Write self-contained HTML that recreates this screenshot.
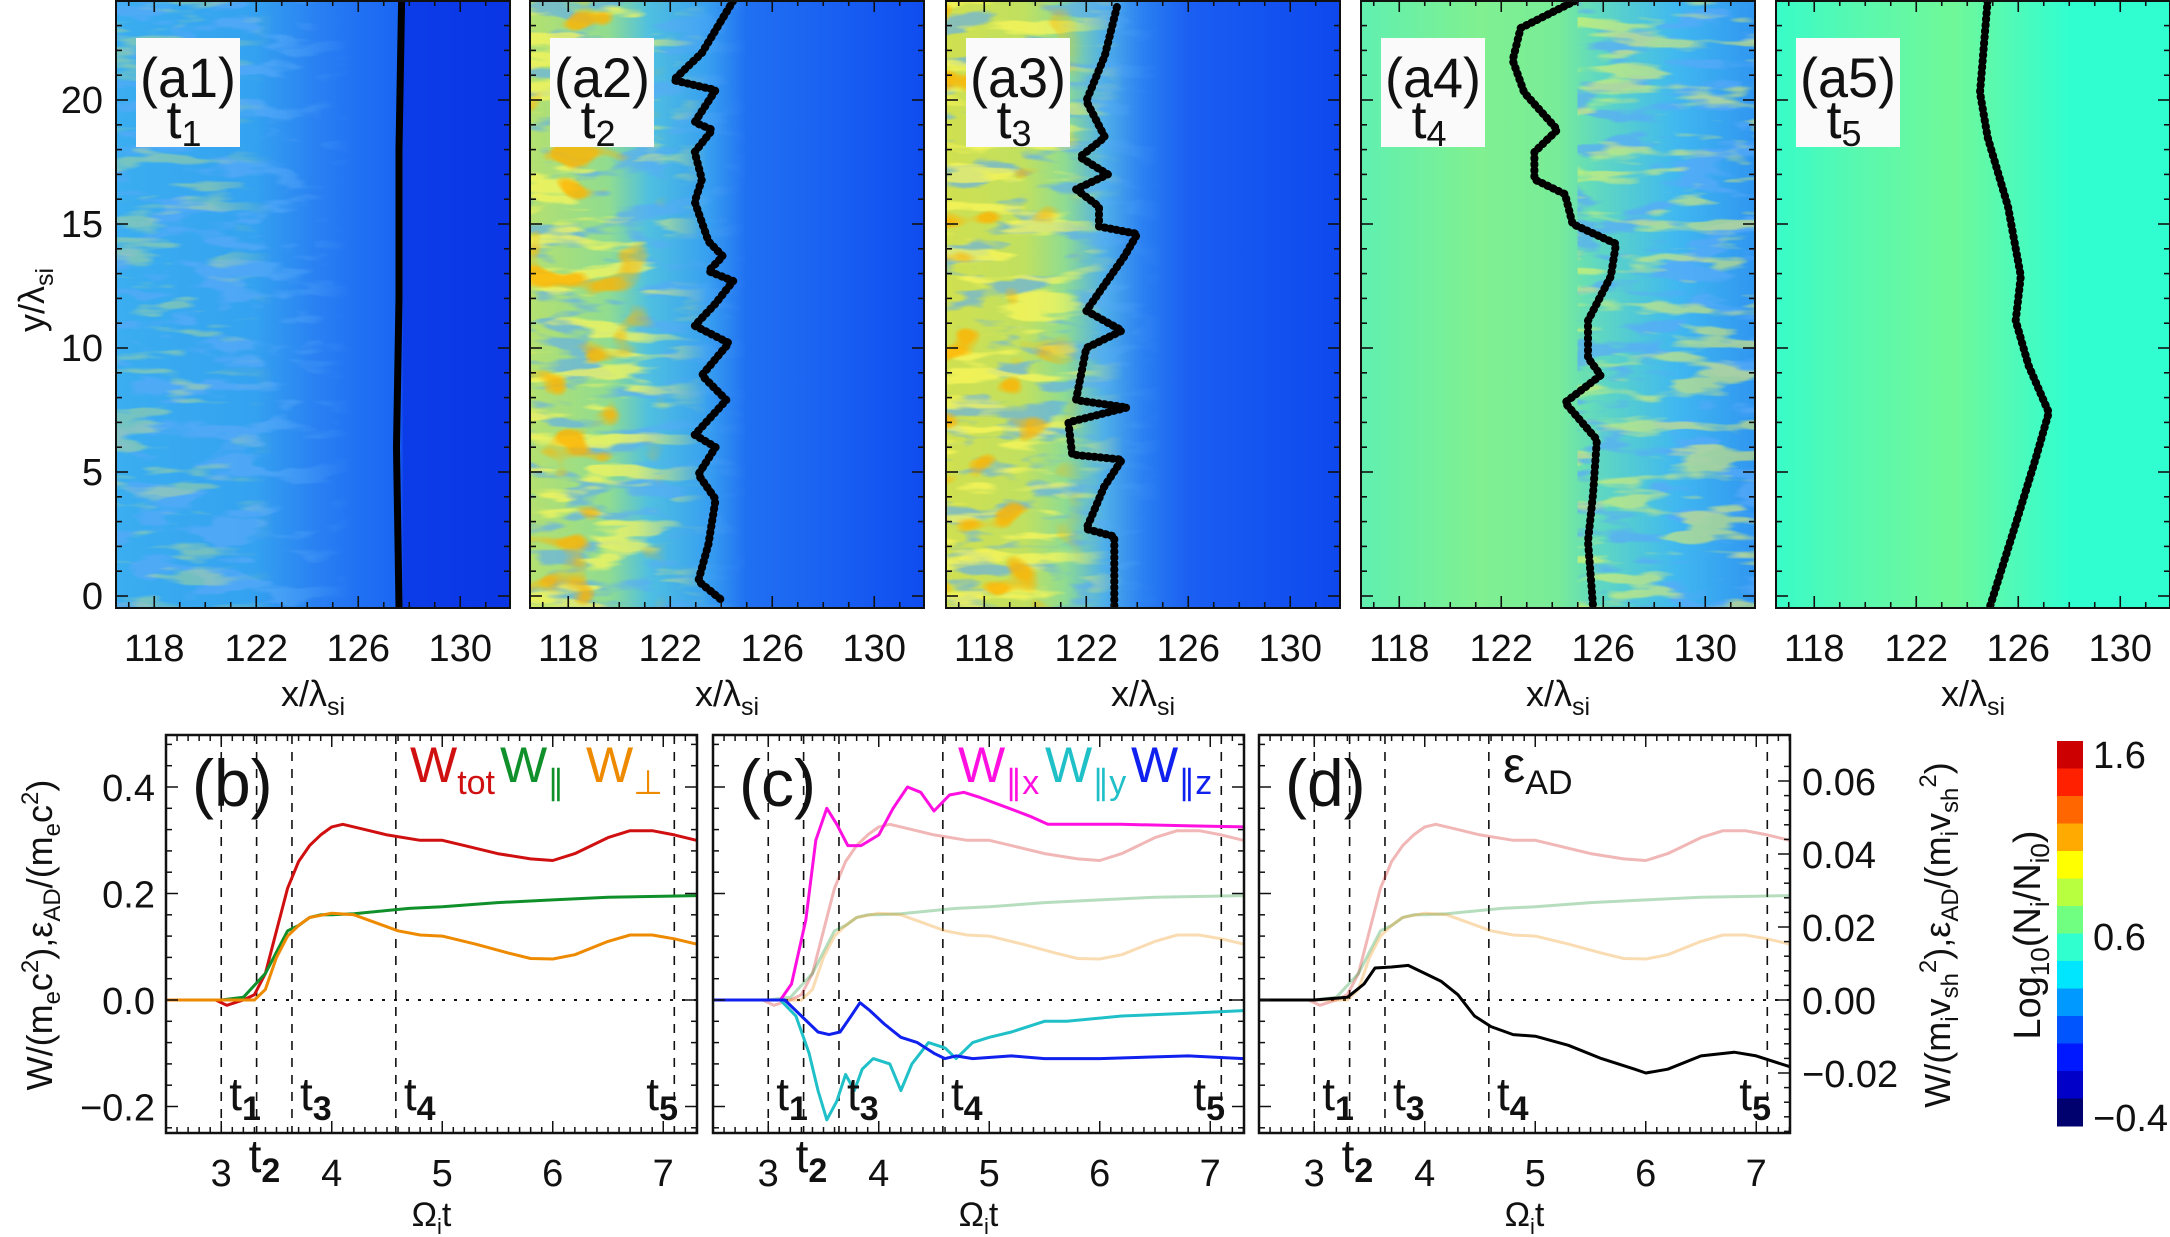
<!DOCTYPE html>
<html><head><meta charset="utf-8">
<style>
html,body{margin:0;padding:0;background:#fff;}
svg{display:block;font-family:"Liberation Sans",sans-serif;}
</style></head>
<body>
<svg id="fig" width="2170" height="1237" viewBox="0 0 2170 1237" xmlns="http://www.w3.org/2000/svg">
<defs>
<linearGradient id="g0" x1="0" x2="1" y1="0" y2="0">
<stop offset="0" stop-color="#3aaef0"/><stop offset="0.35" stop-color="#34a2f0"/><stop offset="0.5" stop-color="#2a82f2"/><stop offset="0.62" stop-color="#2070f3"/><stop offset="0.72" stop-color="#1a66f3"/><stop offset="0.73" stop-color="#0c3ce8"/><stop offset="1" stop-color="#0a36e6"/></linearGradient>
<linearGradient id="g1" x1="0" x2="1" y1="0" y2="0">
<stop offset="0" stop-color="#b4e070"/><stop offset="0.2" stop-color="#90dc90"/><stop offset="0.3" stop-color="#50c0e0"/><stop offset="0.45" stop-color="#38a0f0"/><stop offset="0.55" stop-color="#2070f2"/><stop offset="0.75" stop-color="#1a62f2"/><stop offset="1" stop-color="#0f4cf0"/></linearGradient>
<linearGradient id="g2" x1="0" x2="1" y1="0" y2="0">
<stop offset="0" stop-color="#d0e050"/><stop offset="0.2" stop-color="#c0e060"/><stop offset="0.3" stop-color="#90dc90"/><stop offset="0.4" stop-color="#50b0e8"/><stop offset="0.5" stop-color="#2a80f2"/><stop offset="0.62" stop-color="#1a5ef2"/><stop offset="1" stop-color="#0e48ee"/></linearGradient>
<linearGradient id="g3" x1="0" x2="1" y1="0" y2="0">
<stop offset="0" stop-color="#60f0b0"/><stop offset="0.3" stop-color="#80f090"/><stop offset="0.5" stop-color="#78ec98"/><stop offset="0.6" stop-color="#60d8c0"/><stop offset="0.8" stop-color="#40b8f0"/><stop offset="1" stop-color="#3096f0"/></linearGradient>
<linearGradient id="g4" x1="0" x2="1" y1="0" y2="0">
<stop offset="0" stop-color="#38fcc8"/><stop offset="0.2" stop-color="#58f8b0"/><stop offset="0.45" stop-color="#70f898"/><stop offset="0.6" stop-color="#50fab8"/><stop offset="0.75" stop-color="#30fed0"/><stop offset="1" stop-color="#30fed0"/></linearGradient>
<linearGradient id="fadeR" x1="0" x2="1" y1="0" y2="0"><stop offset="0" stop-color="#fff"/><stop offset="0.6" stop-color="#fff"/><stop offset="1" stop-color="#000"/></linearGradient>
<mask id="mfade" maskContentUnits="objectBoundingBox"><rect x="0" y="0" width="1" height="1" fill="url(#fadeR)"/></mask>
<filter id="txY" x="0" y="0" width="100%" height="100%"><feTurbulence type="fractalNoise" baseFrequency="0.012 0.06" numOctaves="3" seed="3"/><feColorMatrix type="matrix" values="0 0 0 0 1  0 0 0 0 0.95  0 0 0 0 0.1  8 0 0 0 -4.3"/></filter>
<filter id="txB" x="0" y="0" width="100%" height="100%"><feTurbulence type="fractalNoise" baseFrequency="0.015 0.05" numOctaves="3" seed="7"/><feColorMatrix type="matrix" values="0 0 0 0 0.1  0 0 0 0 0.4  0 0 0 0 0.95  8 0 0 0 -4.2"/></filter>
<filter id="txR" x="0" y="0" width="100%" height="100%"><feTurbulence type="fractalNoise" baseFrequency="0.02 0.03" numOctaves="2" seed="11"/><feColorMatrix type="matrix" values="0 0 0 0 1  0 0 0 0 0.45  0 0 0 0 0  9 0 0 0 -5.4"/></filter>
</defs>
<g id="layer"></g>
</svg>
<script>
// ---------- data ----------
const panelLabels = ["(a1)","(a2)","(a3)","(a4)","(a5)"];
const panelTimes = ["1","2","3","4","5"];
const xTicks = [118,122,126,130];
const yTicks = [0,5,10,15,20];
const shockA1X = [127.7,127.6,127.6,127.5,127.6];
const shockA1Y = [24.0,18,12,6,-0.4];
const shockA2X = [124.47,123.24,122.13,123.78,122.96,123.65,122.96,123.24,122.96,123.5,124.06,123.5,124.47,123.78,122.96,124.3,123.24,124.2,122.96,123.78,123.1,123.78,123.5,123.1,124.06];
const shockA2Y = [24.0,21.9,20.8,20.4,19.1,18.8,17.9,16.8,15.9,14.3,13.7,13.1,12.7,11.8,10.9,10.2,8.9,7.9,6.5,6.0,4.9,3.9,2.1,0.6,-0.2];
const shockA3X = [123.2,122.73,122.0,122.73,121.75,122.85,121.6,122.5,122.5,124.0,123.5,122.0,123.4,122.0,121.6,123.6,121.3,121.45,123.4,122.7,122.0,123.1,123.1];
const shockA3Y = [23.75,21.8,19.96,18.5,17.7,17.0,16.4,15.7,14.9,14.6,13.7,11.5,10.7,10.0,7.9,7.6,7.0,5.7,5.5,4.4,2.7,2.4,-0.4];
const shockA4X = [124.9,122.76,122.45,122.9,124.2,123.3,123.3,124.5,124.8,126.5,126.3,125.4,125.4,125.9,124.5,125.75,125.6,125.4,125.6];
const shockA4Y = [24.0,22.9,21.6,20.3,18.8,17.9,16.8,16.2,15.0,14.2,12.9,11.1,9.6,8.9,7.8,6.3,4.1,2.2,-0.4];
const shockA5X = [124.8,124.5,124.8,125.6,126.1,125.9,126.4,127.2,126.7,125.9,124.9];
const shockA5Y = [24,20.3,18.5,15.7,12.9,11.1,9.3,7.4,5.6,2.9,-0.4];

const tTicks = [3,4,5,6,7];
const wTicks = [-0.2,0.0,0.2,0.4];
const wTickLabels = ["\u22120.2","0.0","0.2","0.4"];
const rTicks = [-0.02,0.0,0.02,0.04,0.06];
const rTickLabels = ["\u22120.02","0.00","0.02","0.04","0.06"];
const markTimes = [3.0,3.32,3.64,4.58,7.1];

const totT = [2.5,2.95,3.05,3.2,3.3,3.4,3.5,3.6,3.7,3.8,3.9,4.0,4.1,4.3,4.5,4.8,5.0,5.2,5.5,5.8,6.0,6.2,6.5,6.7,6.9,7.1,7.3];
const totV = [0,0,-0.01,0,0.01,0.05,0.13,0.21,0.26,0.29,0.31,0.325,0.33,0.32,0.31,0.3,0.3,0.29,0.275,0.265,0.262,0.275,0.305,0.318,0.318,0.31,0.3];
const parT = [2.5,3.0,3.2,3.4,3.5,3.6,3.7,3.8,3.9,4.0,4.2,4.5,4.7,5.0,5.5,6.0,6.5,7.0,7.3];
const parV = [0,0,0.005,0.05,0.09,0.13,0.14,0.155,0.16,0.16,0.162,0.168,0.172,0.175,0.183,0.188,0.193,0.195,0.196];
const perpT = [2.5,3.0,3.3,3.4,3.5,3.6,3.7,3.8,4.0,4.2,4.4,4.6,4.8,5.0,5.3,5.6,5.8,6.0,6.2,6.5,6.7,6.9,7.1,7.3];
const perpV = [0,0,0,0.02,0.08,0.12,0.14,0.155,0.163,0.16,0.145,0.13,0.122,0.12,0.105,0.088,0.078,0.077,0.085,0.11,0.122,0.122,0.115,0.105];
const wxT = [2.5,3.11,3.21,3.34,3.43,3.53,3.62,3.72,3.84,4.0,4.13,4.26,4.38,4.5,4.64,4.77,4.92,5.18,5.37,5.53,6.19,6.83,7.3];
const wxV = [0,0,0.03,0.15,0.3,0.36,0.33,0.29,0.29,0.31,0.36,0.4,0.39,0.355,0.385,0.39,0.38,0.36,0.345,0.33,0.33,0.327,0.325];
const wyT = [2.5,3.11,3.25,3.37,3.45,3.53,3.62,3.7,3.78,3.85,3.95,4.1,4.2,4.3,4.45,4.6,4.7,4.85,5.0,5.2,5.5,5.7,6.2,6.8,7.3];
const wyV = [0,0,-0.03,-0.1,-0.17,-0.225,-0.19,-0.14,-0.17,-0.13,-0.11,-0.12,-0.17,-0.12,-0.08,-0.09,-0.11,-0.08,-0.07,-0.06,-0.04,-0.04,-0.03,-0.025,-0.02];
const wzT = [2.5,3.15,3.3,3.45,3.55,3.65,3.75,3.83,3.92,4.05,4.2,4.35,4.5,4.6,4.7,4.85,5.2,5.5,6.0,6.8,7.3];
const wzV = [0,0,-0.03,-0.06,-0.065,-0.06,-0.03,-0.005,-0.02,-0.045,-0.07,-0.08,-0.1,-0.11,-0.105,-0.11,-0.105,-0.11,-0.11,-0.105,-0.11];
const adT = [2.5,3.0,3.3,3.45,3.55,3.7,3.85,4.0,4.15,4.3,4.45,4.6,4.8,5.0,5.3,5.6,5.9,6.0,6.2,6.5,6.8,7.0,7.3];
const adV = [0,0,0.005,0.03,0.06,0.062,0.065,0.05,0.035,0.01,-0.03,-0.05,-0.065,-0.068,-0.085,-0.11,-0.13,-0.137,-0.13,-0.105,-0.098,-0.105,-0.125];

const cbColors = ["#cc0000","#ff2000","#ff6600","#ffaa00","#ffff00","#b8ff40","#70ff80","#30ffd0","#00e6ff","#0099ff","#0055ff","#0018ff","#0000c8","#00006e"];

// ---------- helpers ----------
const NS = "http://www.w3.org/2000/svg";
const root = document.getElementById("layer");
function mk(tag, attrs, parent){
  const e = document.createElementNS(NS, tag);
  for (const k in attrs) e.setAttribute(k, attrs[k]);
  (parent||root).appendChild(e);
  return e;
}
const topL = [116,530,946,1361,1776], topW = 394, topTop = 0, topBot = 608;
function xp(i,x){ return topL[i] + (x-116.5)*25.5; }
function yp(y){ return 596 - y*24.8; }
const botL = [166,713,1259], botW = 531, botTop = 735, botBot = 1133;
function tp(i,t){ return botL[i] + (t-2.5)*110.5; }
function vp(v){ return 1000 - v*532.5; }
function rp(r){ return 1000 - r*3650; }

// ---------- top heatmap panels ----------
const shocksX = [shockA1X,shockA2X,shockA3X,shockA4X,shockA5X];
const shocksY = [shockA1Y,shockA2Y,shockA3Y,shockA4Y,shockA5Y];
for (let i=0;i<5;i++){
  const L = topL[i];
  const cp = mk("clipPath",{id:"cp"+i}, document.querySelector("defs"));
  mk("rect",{x:L,y:topTop,width:topW,height:topBot-topTop},cp);
  const g = mk("g",{"clip-path":"url(#cp"+i+")"});
  
  
  mk("rect",{x:L,y:0,width:topW,height:topBot,fill:"url(#g"+i+")"},g);
  if (i===0){
    mk("rect",{x:L,y:0,width:topW*0.6,height:topBot,filter:"url(#txB)",opacity:0.7,mask:"url(#mfade)"},g);
    mk("rect",{x:L,y:0,width:topW*0.4,height:topBot,filter:"url(#txY)",opacity:0.3,mask:"url(#mfade)"},g);
  }
  if (i===1||i===2){
    mk("rect",{x:L,y:0,width:topW*0.55,height:topBot,filter:"url(#txB)",opacity:0.6,mask:"url(#mfade)"},g);
    mk("rect",{x:L,y:0,width:topW*0.45,height:topBot,filter:"url(#txY)",opacity:0.7,mask:"url(#mfade)"},g);
    mk("rect",{x:L,y:0,width:topW*0.35,height:topBot,filter:"url(#txR)",opacity:0.8,mask:"url(#mfade)"},g);
  }
  if (i===3){
    mk("rect",{x:L+topW*0.55,y:0,width:topW*0.45,height:topBot,filter:"url(#txB)",opacity:0.7},g);
    mk("rect",{x:L+topW*0.55,y:0,width:topW*0.45,height:topBot,filter:"url(#txY)",opacity:0.5},g);
  }
  // shock boundary
  const xs = shocksX[i], ys = shocksY[i];
  let d = "";
  for (let k=0;k<xs.length;k++) d += (k?"L":"M") + xp(i,xs[k]).toFixed(1) + "," + yp(ys[k]).toFixed(1);
  const sh = mk("path",{d:d,fill:"none",stroke:"#000","stroke-width":i===0?7:8,"stroke-dasharray":i===0?"none":"1 5","stroke-linejoin":"round","stroke-linecap":"round"},g);
  
  
  // frame
  const fr = mk("rect",{x:L,y:topTop+1,width:topW,height:topBot-topTop-1,fill:"none",stroke:"#111","stroke-width":2});
  
  
  // ticks
  for (let x=117; x<=131; x++){
    const px = xp(i,x), len = (xTicks.indexOf(x)>=0)?12:6;
    mk("line",{x1:px,x2:px,y1:topBot,y2:topBot-len,stroke:"#111","stroke-width":1.6});
    mk("line",{x1:px,x2:px,y1:0,y2:len,stroke:"#111","stroke-width":1.6});
  }
  for (let y=0; y<=24; y++){
    const py = yp(y), len = (yTicks.indexOf(y)>=0)?12:6;
    mk("line",{x1:L,x2:L+len,y1:py,y2:py,stroke:"#111","stroke-width":1.6});
    mk("line",{x1:L+topW,x2:L+topW-len,y1:py,y2:py,stroke:"#111","stroke-width":1.6});
  }
  for (const x of xTicks){
    const t = mk("text",{x:xp(i,x),y:661,"text-anchor":"middle","font-size":38,fill:"#111"});
    t.textContent = x;
    
    
  }
  const xt = mk("text",{x:L+topW/2,y:706,"text-anchor":"middle","font-size":36,fill:"#111"});
  xt.innerHTML = 'x/λ<tspan font-size="25" dy="9">si</tspan>';
  
  
  // label box
  const bx = mk("rect",{x:L+20,y:38,width:104,height:109,fill:"#fafafa"});
  
  
  const lt = mk("text",{x:L+72,y:97,"text-anchor":"middle","font-size":56,"textLength":96,"lengthAdjust":"spacingAndGlyphs",fill:"#111"});
  lt.textContent = panelLabels[i];
  
  
  const tt = mk("text",{x:L+68,y:138,"text-anchor":"middle","font-size":54,fill:"#111"});
  tt.innerHTML = 't<tspan font-size="36" dy="8">'+panelTimes[i]+'</tspan>';
  
  
}
for (const y of yTicks){
  const t = mk("text",{x:103,y:yp(y)+13,"text-anchor":"end","font-size":38,fill:"#111"});
  t.textContent = y;
  
  
}
const yTitle = mk("text",{x:0,y:0,"text-anchor":"middle","font-size":36,fill:"#111",transform:"translate(44,300) rotate(-90)"});
yTitle.innerHTML = 'y/λ<tspan font-size="25" dy="9">si</tspan>';



// ---------- bottom line panels ----------
function line(i,ts,vs,color,w,op,name,parent){
  let d="";
  for (let k=0;k<ts.length;k++) d += (k?"L":"M")+tp(i,ts[k]).toFixed(1)+","+vp(vs[k]).toFixed(1);
  const p = mk("path",{d:d,fill:"none",stroke:color,"stroke-width":w,opacity:op,"stroke-linejoin":"round"},parent);
  
  
  return p;
}
const bLabels = ["(b)","(c)","(d)"];
for (let i=0;i<3;i++){
  const L = botL[i];
  const cp = mk("clipPath",{id:"bcp"+i}, document.querySelector("defs"));
  mk("rect",{x:L,y:botTop,width:botW,height:botBot-botTop},cp);
  const g = mk("g",{"clip-path":"url(#bcp"+i+")"});
  
  
  mk("line",{x1:L,x2:L+botW,y1:vp(0),y2:vp(0),stroke:"#111","stroke-width":2,"stroke-dasharray":"3 9"},g);
  for (const mt of markTimes){
    const ml = mk("line",{x1:tp(i,mt),x2:tp(i,mt),y1:botTop,y2:botBot,stroke:"#111","stroke-width":1.6,"stroke-dasharray":"9 8"},g);
    
    
  }
  const op = i===0?1:0.3;
  line(i,totT,totV,"#d01010",3,op,"w-tot-line",g);
  line(i,parT,parV,"#10902a",3,op,"w-par-line",g);
  line(i,perpT,perpV,"#ee8a00",3,op,"w-perp-line",g);
  if (i===1){
    line(i,wxT,wxV,"#ff10e0",3,1,"w-par-x-line",g);
    line(i,wyT,wyV,"#20c0c8",3,1,"w-par-y-line",g);
    line(i,wzT,wzV,"#1020ee",3,1,"w-par-z-line",g);
  }
  if (i===2) line(i,adT,adV,"#000",3,1,"eps-ad-line",g);
  const fr = mk("rect",{x:L,y:botTop,width:botW,height:botBot-botTop,fill:"none",stroke:"#111","stroke-width":2.5});
  
  
  for (let t=2.6;t<=7.3;t+=0.1){
    const px = tp(i,t); const maj = Math.abs(t-Math.round(t))<0.01;
    const len = maj?12:6;
    mk("line",{x1:px,x2:px,y1:botBot,y2:botBot-len,stroke:"#111","stroke-width":1.5});
    mk("line",{x1:px,x2:px,y1:botTop,y2:botTop+len,stroke:"#111","stroke-width":1.5});
  }
  for (let v=-0.24; v<=0.49; v+=0.04){
    const py = vp(v); const maj = Math.abs(v*5-Math.round(v*5))<0.01;
    const len = maj?12:6;
    mk("line",{x1:L,x2:L+len,y1:py,y2:py,stroke:"#111","stroke-width":1.5});
    if (i<2) mk("line",{x1:L+botW,x2:L+botW-len,y1:py,y2:py,stroke:"#111","stroke-width":1.5});
  }
  for (const t of tTicks){
    const tl = mk("text",{x:tp(i,t),y:1186,"text-anchor":"middle","font-size":38,fill:"#111"});
    tl.textContent = t;
    
    
  }
  const xt = mk("text",{x:L+botW/2,y:1226,"text-anchor":"middle","font-size":34,fill:"#111"});
  xt.innerHTML = 'Ω<tspan font-size="22" dy="8">i</tspan><tspan dy="-8">t</tspan>';
  
  
  const pl = mk("text",{x:L+26,y:806,"font-size":66,fill:"#111"});
  pl.textContent = bLabels[i];
  
  
  const tlx = [3.0,3.64,4.58,7.1], tln = ["1","3","4","5"];
  for (let k=0;k<4;k++){
    const tx = mk("text",{x:tp(i,tlx[k])+(k===3?-28:8),y:1110,"font-size":46,fill:"#111"});
    tx.innerHTML = 't<tspan font-size="34" dy="10" font-weight="bold">'+tln[k]+'</tspan>';
    
    
  }
  const t2 = mk("text",{x:tp(i,3.32)-8,y:1172,"font-size":46,fill:"#111"});
  t2.innerHTML = 't<tspan font-size="34" dy="10" font-weight="bold">2</tspan>';
  
  
}
for (let k=0;k<wTicks.length;k++){
  const t = mk("text",{x:155,y:vp(wTicks[k])+14,"text-anchor":"end","font-size":38,fill:"#111"});
  t.textContent = wTickLabels[k];
  
  
}
const rL = botL[2]+botW;
for (let r=-0.036; r<=0.065; r+=0.004){
  const py = rp(r); const maj = Math.abs(r*50-Math.round(r*50))<0.01;
  if (py<botTop||py>botBot) continue;
  mk("line",{x1:rL,x2:rL-(maj?12:6),y1:py,y2:py,stroke:"#111","stroke-width":1.5});
}
for (let k=0;k<rTicks.length;k++){
  const t = mk("text",{x:1802,y:rp(rTicks[k])+14,"font-size":38,fill:"#111"});
  t.textContent = rTickLabels[k];
  
  
}
const lt1 = mk("text",{x:0,y:0,"text-anchor":"middle","font-size":36,fill:"#111",transform:"translate(52,935) rotate(-90)"});
lt1.innerHTML = 'W/(m<tspan font-size="24" dy="8">e</tspan><tspan dy="-8">c</tspan><tspan font-size="24" dy="-14">2</tspan><tspan dy="14">),ε</tspan><tspan font-size="24" dy="8">AD</tspan><tspan dy="-8">/(m</tspan><tspan font-size="24" dy="8">e</tspan><tspan dy="-8">c</tspan><tspan font-size="24" dy="-14">2</tspan><tspan dy="14">)</tspan>';


const rt1 = mk("text",{x:0,y:0,"text-anchor":"middle","font-size":36,fill:"#111",transform:"translate(1950,935) rotate(-90)"});
rt1.innerHTML = 'W/(m<tspan font-size="24" dy="8">i</tspan><tspan dy="-8">v</tspan><tspan font-size="24" dy="8">sh</tspan><tspan font-size="24" dy="-22">2</tspan><tspan dy="14">),ε</tspan><tspan font-size="24" dy="8">AD</tspan><tspan dy="-8">/(m</tspan><tspan font-size="24" dy="8">i</tspan><tspan dy="-8">v</tspan><tspan font-size="24" dy="8">sh</tspan><tspan font-size="24" dy="-22">2</tspan><tspan dy="14">)</tspan>';



function leg(x,color,sub,name){
  const t = mk("text",{x:x,y:782,"font-size":50,fill:color});
  t.innerHTML = 'W<tspan font-size="34" dy="12">'+sub+'</tspan>';
  
  
}
leg(410,"#d01010","tot","legend-w-tot");
leg(500,"#10902a","∥","legend-w-par");
leg(586,"#ee8a00","⊥","legend-w-perp");
leg(958,"#ff10e0","∥x","legend-w-par-x");
leg(1045,"#20c0c8","∥y","legend-w-par-y");
leg(1131,"#1020ee","∥z","legend-w-par-z");
const ea = mk("text",{x:1503,y:782,"font-size":50,fill:"#111"});
ea.innerHTML = 'ε<tspan font-size="34" dy="12">AD</tspan>';



const cbTop = 741, cbBot = 1126, cbH = (cbBot-cbTop)/cbColors.length;
for (let k=0;k<cbColors.length;k++){
  const r = mk("rect",{x:2057,y:cbTop+k*cbH,width:26,height:cbH+0.5,fill:cbColors[k]});
  
  
}
const cbl = [["1.6",755],["0.6",937],["\u22120.4",1118]];
for (const c of cbl){
  const t = mk("text",{x:2093,y:c[1]+13,"font-size":38,fill:"#111"});
  t.textContent = c[0];
  
  
}
const cbt = mk("text",{x:0,y:0,"text-anchor":"middle","font-size":38,fill:"#111",transform:"translate(2040,935) rotate(-90)"});
cbt.innerHTML = 'Log<tspan font-size="26" dy="9">10</tspan><tspan dy="-9">(N</tspan><tspan font-size="26" dy="9">i</tspan><tspan dy="-9">/N</tspan><tspan font-size="26" dy="9">i0</tspan><tspan dy="-9">)</tspan>';


</script>
</body></html>
